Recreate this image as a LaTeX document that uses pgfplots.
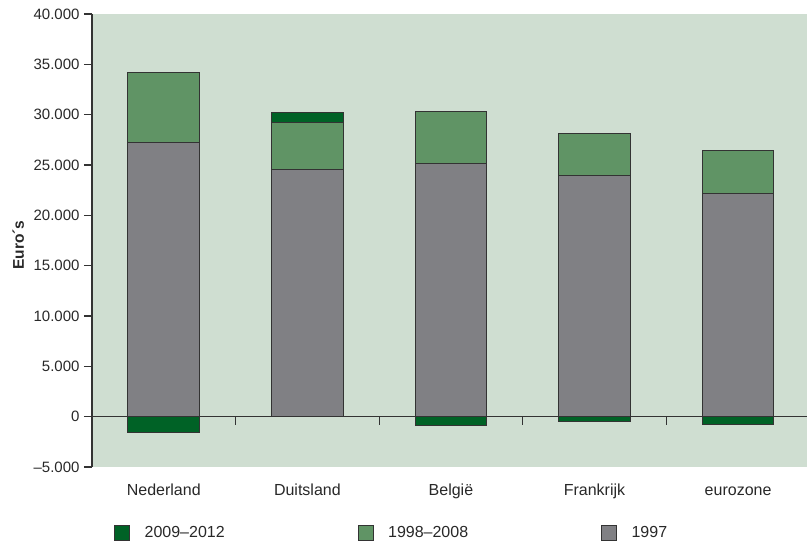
\documentclass[border=0pt]{standalone}
\usepackage{pgfplots}
\pgfplotsset{compat=1.18}
\usepackage{fontspec}
\setmainfont{Liberation Sans}
\definecolor{bgc}{RGB}{207,222,209}
\definecolor{gdark}{RGB}{0,98,38}
\definecolor{gmid}{RGB}{96,148,101}
\definecolor{gry}{RGB}{128,128,132}
\definecolor{axc}{RGB}{51,51,51}
\definecolor{txt}{RGB}{40,40,40}
\begin{document}
\begin{tikzpicture}
\begin{axis}[
  name=ax,
  scale only axis, width=715bp, height=453bp,
  xmin=-0.5, xmax=4.48, ymin=-5000, ymax=40000,
  scaled y ticks=false,
  axis background/.style={fill=bgc},
  axis y line*=left, axis x line*=bottom,
  x axis line style={draw=none},
  y axis line style={draw=axc, line width=1.2bp},
  xtick={0,1,2,3,4},
  xticklabels={Nederland,Duitsland,België,Frankrijk,eurozone},
  xtick style={draw=none},
  ytick={-5000,0,5000,10000,15000,20000,25000,30000,35000,40000},
  yticklabels={–5.000,0,5.000,10.000,15.000,20.000,25.000,30.000,35.000,40.000},
  ytick style={draw=axc, line width=1.2bp},
  tick align=outside,
  major tick length=8bp,
  /pgf/number format/assume math mode=true,
  yticklabel style={font=\fontsize{15bp}{18bp}\selectfont, text=txt, xshift=-1bp},
  xticklabel style={font=\fontsize{16bp}{19bp}\selectfont, text=txt, anchor=base, yshift=-20bp},
  ylabel={Euro´s},
  every axis y label/.style={at={(axis description cs:-0.103,0.49)}, rotate=90, anchor=center, font=\bfseries\fontsize{15.5bp}{18bp}\selectfont, text=txt},
  legend columns=3,
  legend style={draw=none, fill=none, inner sep=0pt, at={(0.0308,-0.1457)}, anchor=west,
    font=\fontsize{16bp}{19bp}\selectfont, text=txt,
    nodes={inner sep=0pt},
    /tikz/every even column/.append style={column sep=133bp}},
]
\addplot[ybar, bar width=0.5, bar shift=0pt, fill=gdark, draw=axc, line width=1bp,
  legend image code/.code={\draw[fill=gdark, draw=axc, line width=0.8bp] (0bp,-7.5bp) rectangle (15bp,7.5bp); \path[draw=none, fill=none] (0bp,0bp) -- (30bp,0bp);}]
  coordinates {(0,-1550) (1,30190) (2,-900) (3,-450) (4,-800)};
\addlegendentry{2009–2012}
\addplot[ybar, bar width=0.5, bar shift=0pt, fill=gmid, draw=axc, line width=1bp,
  legend image code/.code={\draw[fill=gmid, draw=axc, line width=0.8bp] (0bp,-7.5bp) rectangle (15bp,7.5bp); \path[draw=none, fill=none] (0bp,0bp) -- (30bp,0bp);}]
  coordinates {(0,34160) (1,29200) (2,30290) (3,28100) (4,26400)};
\addlegendentry{1998–2008}
\addplot[ybar, bar width=0.5, bar shift=0pt, fill=gry, draw=axc, line width=1bp,
  legend image code/.code={\draw[fill=gry, draw=axc, line width=0.8bp] (0bp,-7.5bp) rectangle (15bp,7.5bp); \path[draw=none, fill=none] (0bp,0bp) -- (30bp,0bp);}]
  coordinates {(0,27200) (1,24530) (2,25120) (3,23930) (4,22150)};
\addlegendentry{1997}
\draw[axc, line width=1.2bp] (axis cs:-0.5,0) -- (axis cs:4.48,0);
\draw[axc, line width=1.2bp] (axis cs:0.5,0) -- ++(0bp,-8bp);
\draw[axc, line width=1.2bp] (axis cs:1.5,0) -- ++(0bp,-8bp);
\draw[axc, line width=1.2bp] (axis cs:2.5,0) -- ++(0bp,-8bp);
\draw[axc, line width=1.2bp] (axis cs:3.5,0) -- ++(0bp,-8bp);
\end{axis}
\path ([shift={(-92bp,-78bp)}]ax.south west) rectangle ([shift={(0bp,14bp)}]ax.north east);
\end{tikzpicture}
\end{document}
